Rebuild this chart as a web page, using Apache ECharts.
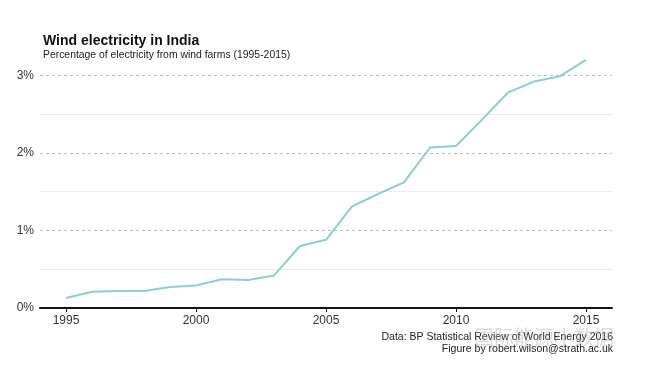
<!DOCTYPE html>
<html>
<head>
<meta charset="utf-8">
<script src="https://cdn.jsdelivr.net/npm/echarts@6/dist/echarts.min.js"></script>
<style>
html,body{margin:0;padding:0;background:#fff;}
#c{width:650px;height:379px;}
</style>
</head>
<body>
<div id="c"></div>
<script>
var years = [1995,1996,1997,1998,1999,2000,2001,2002,2003,2004,2005,2006,2007,2008,2009,2010,2011,2012,2013,2014,2015];
var windShare = [0.13,0.21,0.22,0.22,0.27,0.29,0.37,0.36,0.42,0.80,0.88,1.31,1.47,1.62,2.07,2.09,2.43,2.78,2.92,2.99,3.20];
var majorGrid = [1,2,3];
var minorGrid = [0.5,1.5,2.5];
var xTicks = [1995,2000,2005,2010,2015];

var chart = echarts.init(document.getElementById('c'), null, {renderer:'canvas'});
var font = '"Liberation Sans", Arial, sans-serif';

var markData = majorGrid.map(function(v){
  return {yAxis:v, lineStyle:{type:[3,3], color:'#bdbdbd', width:1}};
}).concat(minorGrid.map(function(v){
  return {yAxis:v, lineStyle:{type:'solid', color:'#ececec', width:1}};
}));

chart.setOption({
  backgroundColor:'#ffffff',
  animation:false,
  title:{
    text:'Wind electricity in India',
    subtext:'Percentage of electricity from wind farms (1995-2015)',
    left:38, top:29, itemGap:2,
    textStyle:{fontFamily:font, fontSize:14, fontWeight:'bold', color:'#111'},
    subtextStyle:{fontFamily:font, fontSize:10.4, color:'#222'}
  },
  grid:{left:40, right:38, top:56, bottom:71, containLabel:false},
  xAxis:{
    type:'value', min:1994, max:2016,
    axisLine:{show:true, lineStyle:{color:'#111', width:2}},
    axisTick:{show:true, length:4, customValues:xTicks, lineStyle:{color:'#111', width:1}},
    axisLabel:{
      margin:7, fontFamily:font, fontSize:12, color:'#333',
      customValues:xTicks,
      formatter:function(v){ return String(v); }
    },
    splitLine:{show:false}
  },
  yAxis:{
    type:'value', min:0, max:3.25, interval:1,
    axisLine:{show:false}, axisTick:{show:false},
    axisLabel:{
      margin:6, fontFamily:font, fontSize:12, color:'#333',
      formatter:function(v){ return Math.abs(v - Math.round(v)) < 1e-9 ? Math.round(v) + '%' : ''; }
    },
    splitLine:{show:false}
  },
  series:[{
    type:'line',
    data:years.map(function(y,i){ return [y, windShare[i]]; }),
    showSymbol:false,
    lineStyle:{color:'#8ecfcb', width:2},
    z:3,
    markLine:{
      silent:true, symbol:'none', label:{show:false},
      data:markData, z:1
    }
  }],
  graphic:[
    {type:'text', right:37, top:332, style:{text:'Data: BP Statistical Review of World Energy 2016', font:'10.5px ' + font, fill:'#222', textAlign:'right'}},
    {type:'text', right:37, top:344, style:{text:'Figure by robert.wilson@strath.ac.uk', font:'10.5px ' + font, fill:'#222', textAlign:'right'}},
    {type:'text', left:474, top:327, z:10, style:{text:'国际能源小数据', font:'20px "Noto Sans CJK SC"', fill:'rgba(170,170,170,0.45)'}}
  ]
});
</script>
</body>
</html>
